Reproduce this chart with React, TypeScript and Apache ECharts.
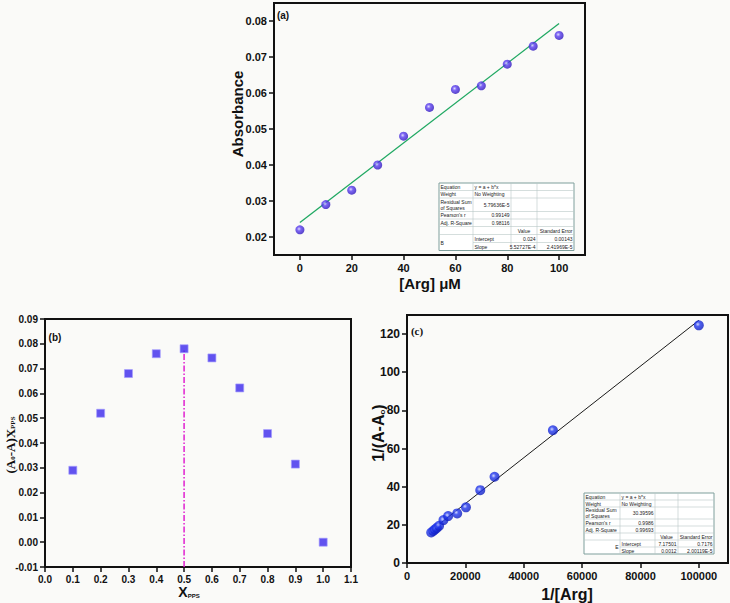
import React, { useEffect, useRef } from "react";
import * as echarts from "echarts";

// Panel (a): absorbance vs [Arg]
const aX = [0, 10, 20, 30, 40, 50, 60, 70, 80, 90, 100];
const aY = [0.022, 0.029, 0.033, 0.040, 0.048, 0.056, 0.061, 0.062, 0.068, 0.073, 0.076];
const aFitX = [0, 100];
const aFitY = [0.024, 0.0793];
const aXTicks = [0, 20, 40, 60, 80, 100];
const aYTicks = [0.02, 0.03, 0.04, 0.05, 0.06, 0.07, 0.08];

// Panel (b): Job's plot
const bX = [0.1, 0.2, 0.3, 0.4, 0.5, 0.6, 0.7, 0.8, 0.9, 1.0];
const bY = [0.029, 0.052, 0.068, 0.076, 0.078, 0.0743, 0.0622, 0.0438, 0.0315, 0.0];
const bLineX = [0.5, 0.5];
const bLineY = [-0.01, 0.078];
const bXTicks = [0, 0.1, 0.2, 0.3, 0.4, 0.5, 0.6, 0.7, 0.8, 0.9, 1.0, 1.1];
const bYTicks = [-0.01, 0, 0.01, 0.02, 0.03, 0.04, 0.05, 0.06, 0.07, 0.08, 0.09];

// Panel (c): Benesi-Hildebrand plot
const cX = [8300, 9000, 9600, 10200, 11000, 12500, 14100, 17200, 20200, 25100, 30000, 50000, 100000];
const cY = [16.0, 16.8, 17.6, 18.4, 19.5, 22.5, 24.6, 26.0, 29.2, 38.2, 45.2, 69.6, 124.6];
const cFitX = [7800, 100000];
const cFitY = [16.5, 127.2];
const cXTicks = [0, 20000, 40000, 60000, 80000, 100000];
const cYTicks = [0, 20, 40, 60, 80, 100, 120];

// Fit tables
const tableA = [
  ["Equation", "y = a + b*x", "", ""],
  ["Weight", "No Weighting", "", ""],
  ["Residual Sum\nof Squares", "5.79636E-5", "", ""],
  ["Pearson's r", "0.99149", "", ""],
  ["Adj. R-Square", "0.98116", "", ""],
  ["", "", "Value", "Standard Error"],
  ["B", "Intercept", "0.024", "0.00143"],
  ["", "Slope", "5.52727E-4", "2.41969E-5"],
];
const tableC = [
  ["Equation", "y = a + b*x", "", ""],
  ["Weight", "No Weighting", "", ""],
  ["Residual Sum\nof Squares", "30.39596", "", ""],
  ["Pearson's r", "0.9986", "", ""],
  ["Adj. R-Square", "0.99693", "", ""],
  ["", "", "Value", "Standard Error"],
  ["E", "Intercept", "7.17501", "0.7176"],
  ["", "Slope", "0.0012", "2.00119E-5"],
];

const zip = (xs: number[], ys: number[]) => xs.map((x, i) => [x, ys[i]]);

function buildTable(cells: string[][], colX: number[], y0: number, rowH: number[]) {
  const els: any[] = [];
  const x0 = colX[0];
  const x1 = colX[colX.length - 1];
  const total = rowH.reduce((s, h) => s + h, 0);
  els.push({
    type: "rect",
    shape: { x: x0, y: y0, width: x1 - x0, height: total },
    style: { fill: "#ffffff", stroke: "#7f9f9c", lineWidth: 1 },
  });
  const rowY: number[] = [y0];
  rowH.forEach((h, i) => rowY.push(rowY[i] + h));
  for (let r = 1; r < rowH.length; r++) {
    const startX = r === rowH.length - 1 ? colX[1] : x0;
    els.push({
      type: "line",
      shape: { x1: startX, y1: rowY[r], x2: x1, y2: rowY[r] },
      style: { stroke: "#b8c8c6", lineWidth: 0.6 },
    });
  }
  for (let c = 1; c < colX.length - 1; c++) {
    els.push({
      type: "line",
      shape: { x1: colX[c], y1: y0, x2: colX[c], y2: y0 + total },
      style: { stroke: "#b8c8c6", lineWidth: 0.6 },
    });
  }
  cells.forEach((row, r) => {
    row.forEach((t, c) => {
      if (!t) return;
      const numeric = /^[\d.\-E]+$/.test(t);
      let align = numeric ? "right" : "left";
      if (r === 5) align = c === 2 ? "center" : "right";
      const cx0 = colX[c] + 1.5;
      const cx1 = colX[c + 1] - 1.5;
      const x = align === "left" ? cx0 : align === "right" ? cx1 : (cx0 + cx1) / 2;
      let y = rowY[r] + rowH[r] / 2;
      if (r === 6 && c === 0) y = rowY[6] + (rowH[6] + rowH[7]) / 2;
      els.push({
        type: "text",
        x,
        y,
        style: {
          text: t,
          align,
          verticalAlign: "middle",
          font: '5px "Liberation Sans"',
          lineHeight: 6,
          fill: "#222",
        },
      });
    });
  });
  return els;
}

const tickFont = { fontFamily: "Liberation Sans", fontWeight: "bold" as const, color: "#111" };

function axisCommon(ticks: number[], fmt: (v: number) => string, fontSize: number) {
  return {
    type: "value" as const,
    splitLine: { show: false },
    axisLine: { show: true, onZero: false, lineStyle: { color: "#111", width: 2 } },
    axisTick: { show: true, inside: false, length: 5, customValues: ticks, lineStyle: { color: "#111", width: 1.5 } },
    axisLabel: { ...tickFont, fontSize, margin: 7, customValues: ticks, formatter: fmt },
  };
}

export default function App() {
  const ref = useRef<HTMLDivElement>(null);
  useEffect(() => {
    if (!ref.current) return;
    const chart = echarts.init(ref.current, null, { renderer: "svg" });
    const serifBold = 'bold 13px "Liberation Serif"';
    const option: any = {
      animation: false,
      backgroundColor: "#fafaf8",
      grid: [
        { left: 274, top: 3, width: 311, height: 252, show: true, borderColor: "#111", borderWidth: 2, backgroundColor: "transparent" },
        { left: 45, top: 319, width: 306, height: 248, show: true, borderColor: "#111", borderWidth: 2, backgroundColor: "transparent" },
        { left: 407, top: 315, width: 321, height: 248, show: true, borderColor: "#111", borderWidth: 2, backgroundColor: "transparent" },
      ],
      xAxis: [
        { gridIndex: 0, min: -10, max: 110, ...axisCommon(aXTicks, (v) => String(v), 11) },
        { gridIndex: 1, min: 0, max: 1.1, ...axisCommon(bXTicks, (v) => v.toFixed(1), 10) },
        { gridIndex: 2, min: 0, max: 110000, ...axisCommon(cXTicks, (v) => String(v), 11) },
      ],
      yAxis: [
        { gridIndex: 0, min: 0.015, max: 0.085, ...axisCommon(aYTicks, (v) => v.toFixed(2), 11) },
        { gridIndex: 1, min: -0.01, max: 0.09, ...axisCommon(bYTicks, (v) => v.toFixed(2), 10) },
        { gridIndex: 2, min: 0, max: 130, ...axisCommon(cYTicks, (v) => String(v), 12) },
      ],
      series: [
        {
          type: "line",
          xAxisIndex: 0,
          yAxisIndex: 0,
          data: zip(aFitX, aFitY),
          showSymbol: false,
          lineStyle: { color: "#1fa862", width: 1.3 },
          z: 2,
        },
        {
          type: "scatter",
          xAxisIndex: 0,
          yAxisIndex: 0,
          data: zip(aX, aY),
          symbolSize: 9,
          itemStyle: {
            color: {
              type: "radial", x: 0.4, y: 0.4, r: 0.65,
              colorStops: [
                { offset: 0, color: "#d8d2ff" },
                { offset: 0.35, color: "#5c3ff2" },
                { offset: 1, color: "#2a12b8" },
              ],
            },
          },
          z: 3,
        },
        {
          type: "line",
          xAxisIndex: 1,
          yAxisIndex: 1,
          data: zip(bLineX, bLineY),
          showSymbol: false,
          lineStyle: { color: "#e020d0", width: 1.5, type: [6, 2, 1.5, 2] },
          z: 2,
        },
        {
          type: "scatter",
          xAxisIndex: 1,
          yAxisIndex: 1,
          data: zip(bX, bY),
          symbol: "rect",
          symbolSize: 8,
          itemStyle: { color: "#3b28ec", borderColor: "#a49cff", borderWidth: 0.8 },
          z: 3,
        },
        {
          type: "line",
          xAxisIndex: 2,
          yAxisIndex: 2,
          data: zip(cFitX, cFitY),
          showSymbol: false,
          lineStyle: { color: "#1a1a1a", width: 1 },
          z: 2,
        },
        {
          type: "scatter",
          xAxisIndex: 2,
          yAxisIndex: 2,
          data: zip(cX, cY),
          symbolSize: 10,
          itemStyle: {
            color: {
              type: "radial", x: 0.4, y: 0.4, r: 0.65,
              colorStops: [
                { offset: 0, color: "#c8d0ff" },
                { offset: 0.35, color: "#2238f0" },
                { offset: 1, color: "#0c1ab8" },
              ],
            },
          },
          z: 3,
        },
      ],
      graphic: {
        elements: [
          // panel labels
          { type: "text", x: 283, y: 15, style: { text: "(a)", font: 'bold 10px "Liberation Sans"', fill: "#111", align: "center", verticalAlign: "middle" } },
          { type: "text", x: 55, y: 337, style: { text: "(b)", font: 'bold 10px "Liberation Sans"', fill: "#111", align: "center", verticalAlign: "middle" } },
          { type: "text", x: 417, y: 331, style: { text: "(c)", font: 'bold 11px "Liberation Serif"', fill: "#111", align: "center", verticalAlign: "middle" } },
          // axis titles (a)
          { type: "text", x: 237, y: 114, rotation: Math.PI / 2, style: { text: "Absorbance", font: 'bold 15px "Liberation Sans"', fill: "#111", align: "center", verticalAlign: "middle" } },
          { type: "text", x: 430, y: 283, style: { text: "[Arg] μM", font: 'bold 15px "Liberation Sans"', fill: "#111", align: "center", verticalAlign: "middle" } },
          // axis titles (b)
          {
            type: "text", x: 10, y: 445, rotation: Math.PI / 2,
            style: {
              text: "(A{s|0}-A)X{s|PPS}", font: serifBold, fill: "#111", align: "center", verticalAlign: "middle",
              rich: { s: { font: 'bold 7px "Liberation Serif"', fill: "#111", verticalAlign: "bottom", lineHeight: 6 } },
            },
          },
          {
            type: "text", x: 189, y: 592,
            style: {
              text: "X{s|PPS}", font: 'bold 14px "Liberation Sans"', fill: "#111", align: "center", verticalAlign: "middle",
              rich: { s: { font: 'bold 6px "Liberation Sans"', fill: "#111", verticalAlign: "bottom", lineHeight: 5 } },
            },
          },
          // axis titles (c)
          {
            type: "text", x: 378, y: 433, rotation: Math.PI / 2,
            style: {
              text: "1/(A-A{s|o})", font: 'bold 16px "Liberation Sans"', fill: "#111", align: "center", verticalAlign: "middle",
              rich: { s: { font: 'bold 8px "Liberation Sans"', fill: "#111", verticalAlign: "bottom", lineHeight: 7 } },
            },
          },
          { type: "text", x: 567, y: 594, style: { text: "1/[Arg]", font: 'bold 16px "Liberation Sans"', fill: "#111", align: "center", verticalAlign: "middle" } },
          // tables
          ...buildTable(tableA, [439, 473, 511, 537, 574], 183, [7.5, 7.5, 13.5, 7.5, 7.5, 8, 8, 8]),
          ...buildTable(tableC, [584, 620, 655, 678, 714], 493, [7, 7, 12, 7, 7, 7, 7, 7]),
        ],
      },
    };
    chart.setOption(option);
    return () => chart.dispose();
  }, []);
  return <div ref={ref} style={{ position: "absolute", left: 0, top: 0, width: 730, height: 603 }} />;
}
